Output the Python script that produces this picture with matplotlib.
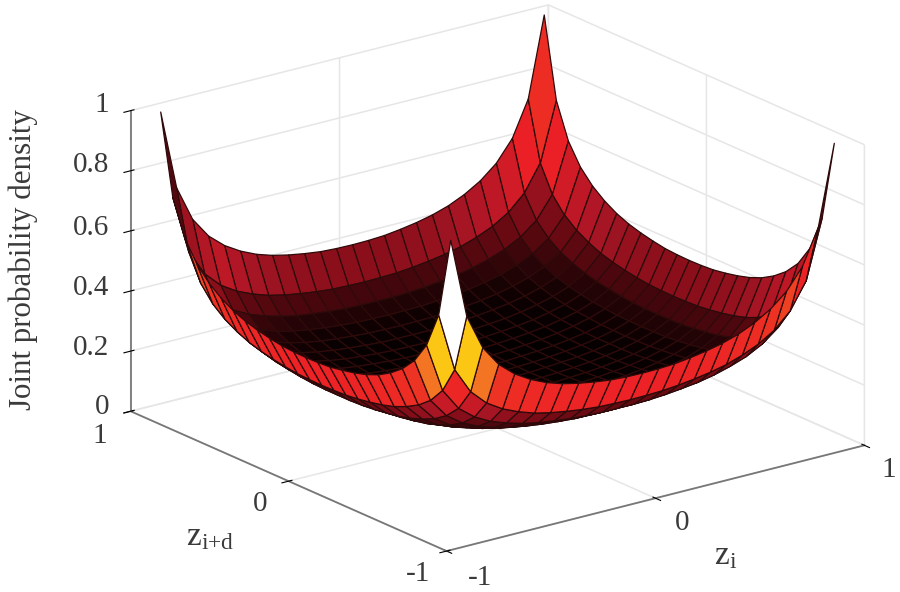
import numpy as np
import matplotlib
matplotlib.use('Agg')
import matplotlib.pyplot as plt
from matplotlib.colors import LinearSegmentedColormap

plt.rcParams['font.family'] = ['Liberation Serif', 'DejaVu Serif']
plt.rcParams['mathtext.fontset'] = 'custom'
plt.rcParams['mathtext.rm'] = 'Liberation Serif'

# one quadrant of the surface (corner peak first, centre last)
edge_pos = [0.918, 0.8415, 0.765, 0.6885, 0.612, 0.5355, 0.459, 0.3825, 0.306, 0.2295, 0.153, 0.0765, 0.0]
quadrant = [
    [1.000, .734, .616, .547, .502, .470, .446, .429, .417, .408, .401, .398, .397],
    [.734, .539, .452, .401, .368, .345, .327, .315, .306, .299, .294, .292, .291],
    [.616, .452, .379, .337, .309, .290, .275, .264, .257, .251, .247, .245, .245],
    [.547, .401, .337, .299, .275, .257, .244, .235, .228, .223, .219, .218, .217],
    [.502, .368, .309, .275, .252, .236, .224, .215, .209, .205, .201, .200, .199],
    [.470, .345, .290, .257, .236, .221, .210, .202, .196, .192, .188, .187, .187],
    [.446, .327, .275, .244, .224, .210, .199, .191, .186, .182, .179, .178, .177],
    [.429, .315, .264, .235, .215, .202, .191, .184, .179, .175, .172, .171, .170],
    [.417, .306, .257, .228, .209, .196, .186, .179, .174, .170, .167, .166, .166],
    [.408, .299, .251, .223, .205, .192, .182, .175, .170, .166, .164, .162, .162],
    [.401, .294, .247, .219, .201, .188, .179, .172, .167, .164, .161, .160, .159],
    [.398, .292, .245, .218, .200, .187, .178, .171, .166, .162, .160, .158, .158],
    [.397, .291, .245, .217, .199, .187, .177, .170, .166, .162, .159, .158, .158],
]
xy_ticks = [-1, 0, 1]
xy_ticklabels = ['-1', '0', '1']
z_ticks = [0, 0.2, 0.4, 0.6, 0.8, 1]
z_ticklabels = ['0', '0.2', '0.4', '0.6', '0.8', '1']

q = np.array(quadrant)
half = np.array(edge_pos)
pos = np.concatenate([-half, half[-2::-1]])
Z = np.vstack([q, q[-2::-1]])
Z = np.hstack([Z, Z[:, -2::-1]])
X, Y = np.meshgrid(pos, pos)

cmap = LinearSegmentedColormap.from_list('redhot', [
    (0.0, '#040000'), (0.17, '#7a0c16'), (0.25, '#ad1626'), (0.37, '#ec1f26'), (0.47, '#ee3c22'),
    (0.6, '#f47a22'), (0.72, '#fcc814'), (0.88, '#fcc814'), (1.0, '#ffffff')])


def face_colors(X, Y, Z):
    # shading: steeper faces are brighter, faces turned to the front corner most of all
    sx, sz = 262.0, 319.0
    dzdx = 0.5 * ((Z[:-1, 1:] - Z[:-1, :-1]) / (X[:-1, 1:] - X[:-1, :-1]) + (Z[1:, 1:] - Z[1:, :-1]) / (X[1:, 1:] - X[1:, :-1]))
    dzdy = 0.5 * ((Z[1:, :-1] - Z[:-1, :-1]) / (Y[1:, :-1] - Y[:-1, :-1]) + (Z[1:, 1:] - Z[:-1, 1:]) / (Y[1:, 1:] - Y[:-1, 1:]))
    nx, ny = -dzdx * sz / sx, -dzdy * sz / sx
    n = np.sqrt(nx**2 + ny**2 + 1)
    nz = 1 / n
    h = (nx * 0.72 + ny * 0.69) / np.maximum(np.sqrt(nx**2 + ny**2), 1e-6)
    front = np.interp(nz, [0.19, 0.29, 0.35, 0.40, 0.51, 0.7, 1.0], [1.0, 0.72, 0.6, 0.43, 0.38, 0.22, 0.0])
    back = np.interp(nz, [0.19, 0.29, 0.5, 0.7, 0.85, 1.0], [0.42, 0.37, 0.20, 0.14, 0.07, 0.0])
    w = np.clip(h / 0.3 * 0.5 + 0.5, 0, 1)
    side = np.maximum(np.clip(np.abs(h) / 0.5, 0, 1), np.clip((nz - 0.15) / 0.25, 0, 1))
    return cmap(np.clip((w * front + (1 - w) * back) * side, 0, 1))


fig = plt.figure(figsize=(9, 5.92), dpi=100)
S = 1000.0
ax = fig.add_axes([-16 / 900, -199.5 / 592, S / 900, S / 592], projection='3d', proj_type='ortho')
ax.patch.set_visible(False)
ax.set_box_aspect((1, 1, 0.609), zoom=0.783)
ax.view_init(elev=19.55, azim=232.9)

ax.plot_surface(X, Y, Z, rstride=1, cstride=1, facecolors=face_colors(X, Y, Z), shade=False,
                edgecolor='#2e0a0a', linewidth=0.9, antialiased=True)

ax.set_xlim(-1, 1)
ax.set_ylim(-1, 1)
ax.set_zlim(0, 1)
ax.set_xticks(xy_ticks)
ax.set_yticks(xy_ticks)
ax.set_zticks(z_ticks)
ax.set_xticklabels([])
ax.set_yticklabels([])
ax.set_zticklabels([])
for axis in (ax.xaxis, ax.yaxis, ax.zaxis):
    axis.set_pane_color((1, 1, 1, 0))
    axis.pane.set_edgecolor('#e4e4e4')
    axis.line.set_color('#777777')
    axis.line.set_linewidth(1.3)
    axis._axinfo['grid']['color'] = '#e6e6e6'
    axis._axinfo['grid']['linewidth'] = 1.1
    axis._axinfo['tick']['color'] = '#777777'
ax.zaxis.set_ticks_position('upper')


def put(px, py, s, **kw):
    # text at reference pixel position
    fig.text(px / 900, 1 - py / 592, s, va='center', color='#3a3a3a', **kw)


# tick labels sit where the reference has them, the 3D pad cannot reach those spots
for s, px, py in zip(xy_ticklabels, [480, 682, 889], [578, 523, 470]):
    put(px, py, s, ha='center', fontsize=21)
for s, px, py in zip(xy_ticklabels, [418, 260, 100], [574, 504, 436]):
    put(px, py, s, ha='center', fontsize=21)
for s, py in zip(z_ticklabels, [407, 348, 288, 228, 165, 105]):
    put(109, py, s, ha='right', fontsize=21)

put(23, 260, 'Joint probability density', rotation=90, ha='center', fontsize=22.3)
put(210, 537, r'$\mathrm{z_{i{+}d}}$', ha='center', fontsize=24)
put(726, 556, r'$\mathrm{z_{i}}$', ha='center', fontsize=24)

fig.savefig('out.png', dpi=100)
